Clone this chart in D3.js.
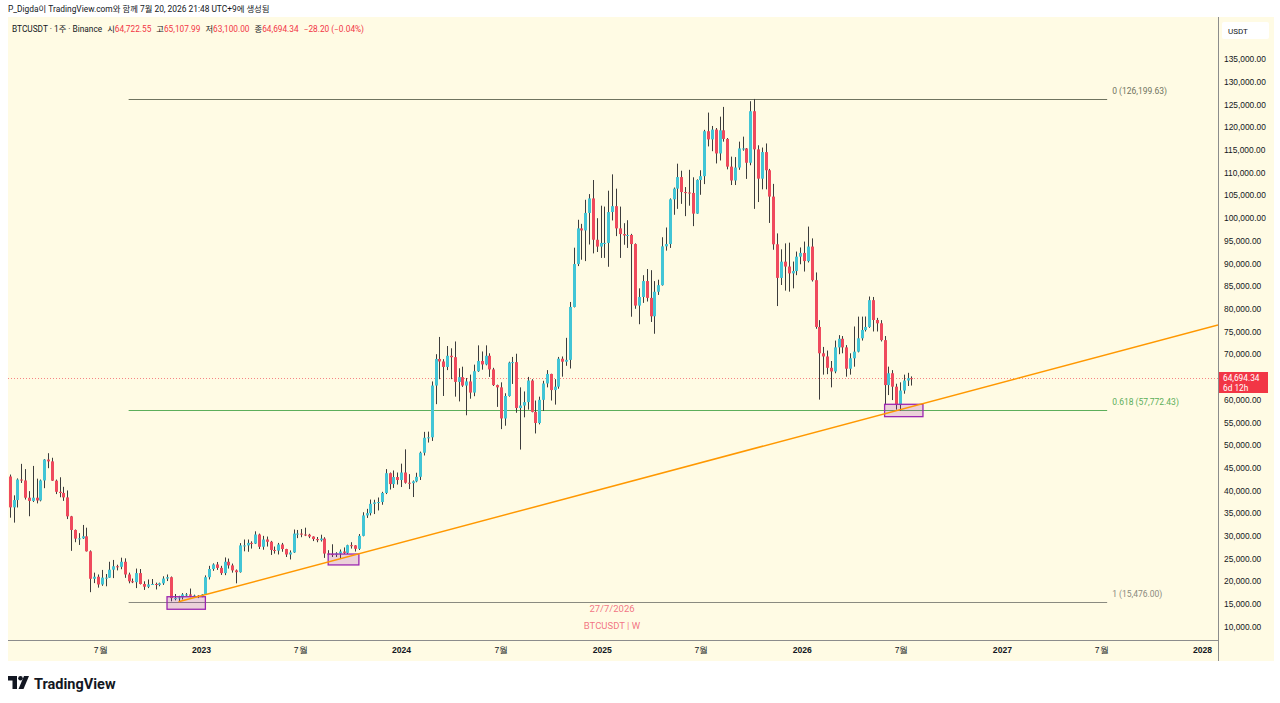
<!DOCTYPE html>
<meta charset="utf-8">
<style>
  body { margin: 0; background: #fff; }
  svg { display: block; font-family: Roboto, "Noto Sans CJK KR", sans-serif; }
</style>
<body>
<script src="https://d3js.org/d3.v7.min.js"></script>
<script>
// weekly BTCUSDT candles, one value per week starting at firstWeek (open = previous close)
var firstWeek = "2022-01-17";
var firstOpen = 43070;
var closes = [
  36276,37881,42400,42200,38400,37700,38400,37800,42200,46800,46400,42150,39700,39450,38470,34300,
  31300,29400,29450,29900,26600,20550,21000,19300,20800,20800,22550,23300,23180,24300,21500,20000,
  19800,21800,19400,18800,19300,19400,19200,19550,20600,20900,16300,16300,16450,17100,17100,16800,
  16850,16700,
  17100,20900,22700,23700,22950,21800,24300,23500,22400,22000,27900,27900,28450,28300,30300,27600,
  29200,28700,26900,26750,28100,27100,25900,26350,30500,30500,30300,30250,29850,29300,29050,29400,
  26100,26000,25850,26100,26550,26250,27950,27900,27150,30000,34500,35000,37050,37350,37450,39450,
  43800,41400,42950,42300,
  43950,41700,41600,42000,43000,48300,51600,51700,63100,68950,68400,67200,69650,69350,63900,64950,
  63100,64000,61550,66250,68500,67750,69650,66650,63200,62700,55850,60800,68150,68250,58150,58700,
  59450,64200,57300,54850,59950,63550,65650,62100,62850,69000,68350,68750,80400,89850,97700,97250,
  101100,104300,95200,93700,94500,
  94500,101300,102600,97700,96450,96150,96250,94250,80700,82600,86100,82400,78350,83750,85200,93750,
  94250,104100,106450,109000,105700,105600,105500,100950,108350,109200,119100,117300,119450,114200,119300,117400,
  111300,108250,111100,115300,115300,112150,123500,115100,108650,114500,110500,104700,94200,86800,90377,89300,
  87800,88300,91478,92300,
  90500,93700,86300,76000,70200,69500,67000,66200,71500,73400,71500,66800,69100,70560,73500,75330,
  76000,81900,77530,76800,73100,63200,65800,62850,58800,62000,64200,64722.55,64694.34
];
var highs = [
  43500,38920,42656,45855,44700,39850,45400,42600,42400,46900,48200,47200,42400,42900,40800,40000,
  34400,31400,30600,32400,31800,26800,21900,21500,22500,21600,24300,24700,23650,25200,25050,21900,
  20600,22800,22700,20000,20400,20500,19700,19700,21100,21500,21050,17200,16800,17400,17400,18400,
  17050,16950,
  17200,21300,23400,23950,24250,23400,25250,25000,23900,22600,28400,29200,29200,28800,31000,30500,
  30000,29850,28900,27650,28450,28450,27150,26800,31400,31300,31500,31800,30450,29900,29750,30250,
  29700,26850,28150,26400,27000,27450,28050,28600,27950,30400,35200,35950,38000,37950,38450,39700,
  44700,43950,44400,43950,
  45900,49050,43600,42200,43900,48550,52900,52950,64000,70000,73800,68900,71800,71300,72800,66900,
  67250,64750,65500,67700,71950,70600,71950,70200,67000,63300,63800,61400,68350,69400,70100,62700,
  61800,65000,64500,59800,60650,64150,66500,65700,64500,69400,69500,73600,81500,93450,99600,98700,
  104000,105250,108350,99950,102700,
  102500,106000,109600,106450,102500,98850,99500,96500,94400,84500,87400,88750,88500,86100,86400,95750,
  97900,104300,106700,111950,110400,106800,110600,108950,108500,110500,119400,123200,120250,119800,122300,124450,
  117600,113500,113400,116800,117900,115400,125700,126199.63,116000,115500,116400,110800,107500,96600,93093,94400,
  94560,90400,92600,93500,
  94800,98100,95500,88000,77500,71600,70800,68500,73000,74200,74000,72000,70200,76100,78270,78270,
  78300,82700,82600,78000,77500,74000,67260,66500,63500,63800,65500,65900,65107.99
];
var lows = [
  34000,32917,36250,41650,38000,34322,37450,37150,37600,40500,44900,42100,39200,38500,37700,33700,
  26700,28600,28000,29300,26550,17600,19600,18600,19000,18900,20750,20700,22400,22650,20760,19550,
  19600,18500,19300,18100,18500,19200,18200,18900,19200,20050,15588,15800,15476,16000,16750,16500,
  16400,16300,
  16500,17100,20400,22300,22500,21400,21350,22800,21900,19550,21900,26600,26500,27200,28200,27100,
  26950,27650,25800,26100,25900,26500,25350,24800,26250,29500,29700,29950,29500,28850,28600,28750,
  25150,25750,25350,25350,24900,26000,26000,27200,26550,26900,29900,33950,34500,34800,35600,36850,
  39200,40200,40550,41300,
  40750,41500,40300,38550,41800,42300,47700,50550,50900,59000,64500,60800,66500,64500,60650,59600,
  62800,56550,60200,60750,66100,66600,67550,65000,63000,58400,53500,54250,60650,63450,57100,49000,
  56100,57800,57200,52550,54550,57500,62700,59800,58900,62400,65050,67450,66850,80300,89400,90800,
  90500,94150,92200,92500,91200,
  91200,89250,99450,96000,91200,94100,93400,78250,80000,76600,81300,81600,77100,74500,83050,85100,
  92800,93400,100700,102000,103100,100400,102700,98200,100900,105100,107450,115750,114700,112000,112650,116800,
  110700,107250,107250,110600,114800,108600,111600,102000,103500,106300,106300,98900,93000,80600,85240,84000,
  83770,84500,87400,89800,
  88200,90200,86000,75600,60000,65500,65600,62700,65800,70000,70200,65050,65500,67250,70400,73000,
  75000,75800,75000,75000,72800,58800,61000,59900,57800,57500,61300,63000,63100
];

// axes (65,000 is hidden behind the last price label)
var priceTicks = [10000,15000,20000,25000,30000,35000,40000,45000,50000,55000,60000,
                  70000,75000,80000,85000,90000,95000,100000,105000,110000,115000,120000,125000,130000,135000];
var timeTickDates = ["2022-07-01","2023-01-01","2023-07-01","2024-01-01","2024-07-01","2025-01-01","2025-07-01","2026-01-01","2026-07-01","2027-01-01","2027-07-01","2028-01-01"];
var timeTickLabels = ["7월","2023","7월","2024","7월","2025","7월","2026","7월","2027","7월","2028"];

// fib retracement
var fibLevels = ["0", "0.618", "1"];
var fibPrices = [126199.63, 57772.43, 15476.00];
var fibColors = ["#6f735f", "#5cae5a", "#8a8a80"];
var fibDates = ["2022-08-22", "2027-07-12"];

// orange trend line anchors
var trendDates = ["2022-11-21", "2026-06-29"];
var trendPrices = [15476, 57785];

// purple boxes
var boxStart = ["2022-10-31", "2023-08-21", "2026-06-01"];
var boxEnd = ["2023-01-09", "2023-10-16", "2026-08-10"];
var boxTop = [16600, 26000, 58970];
var boxBottom = [13840, 23600, 56250];

// legend
var legendLabels = ["시", "고", "저", "종"];
var legendValues = ["64,722.55", "65,107.99", "63,100.00", "64,694.34"];
var legendChange = "−28.20 (−0.04%)";
var lastPrice = 64694.34;
var countdown = "6d 12h";

var W = 1280, H = 703,
    padL = 8, padT = 17, plotRight = 1218, plotBottom = 640, panelRight = 1274, panelBottom = 661;
var upColor = "#42c5d6", downColor = "#ef4a5d", wickColor = "#3c3c3c", textColor = "#131722";

var parse = d3.utcParse("%Y-%m-%d");
var x = d3.scaleUtc().domain([parse("2023-01-01"), parse("2028-01-01")]).range([201, 1202]);
var y = d3.scaleLinear().domain([10000, 130000]).range([626.7, 81.7]);

var svg = d3.select("body").append("svg").attr("width", W).attr("height", H);

svg.append("text").attr("x", 8).attr("y", 12).attr("font-size", 8.4).attr("fill", textColor)
  .text("P_Digda이 TradingView.com와 함께 7월 20, 2026 21:48 UTC+9에 생성됨");

svg.append("rect").attr("x", padL).attr("y", padT)
  .attr("width", panelRight - padL).attr("height", panelBottom - padT).attr("fill", "#fffbe4");

svg.append("clipPath").attr("id", "plotclip").append("rect")
  .attr("x", padL).attr("y", padT).attr("width", plotRight - padL).attr("height", plotBottom - padT);
var plot = svg.append("g").attr("clip-path", "url(#plotclip)");

// fib lines
fibPrices.forEach(function(p, i) {
  var yy = Math.round(y(p)) + 0.5;
  plot.append("line").attr("x1", x(parse(fibDates[0]))).attr("x2", x(parse(fibDates[1])))
    .attr("y1", yy).attr("y2", yy).attr("stroke", fibColors[i]).attr("stroke-width", 1);
  plot.append("text").attr("x", x(parse(fibDates[1])) + 5).attr("y", yy - 5.5)
    .attr("font-size", 8.5).attr("fill", fibColors[i])
    .text(fibLevels[i] + " (" + d3.format(",.2f")(p) + ")");
});

// current price dotted line
var lastY = Math.round(y(lastPrice)) + 0.5;
plot.append("line").attr("x1", padL).attr("x2", plotRight).attr("y1", lastY).attr("y2", lastY)
  .attr("stroke", "#f23645").attr("stroke-opacity", 0.6).attr("stroke-dasharray", "1,2");

// candles
var candles = closes.map(function(c, i) {
  return {date: d3.utcDay.offset(parse(firstWeek), 7 * i),
          open: i === 0 ? firstOpen : closes[i - 1], high: highs[i], low: lows[i], close: c};
});
var cg = plot.selectAll("g.candle").data(candles).enter().append("g").attr("class", "candle");
cg.append("line")
  .attr("x1", function(d) { return Math.round(x(d.date)) + 0.5; })
  .attr("x2", function(d) { return Math.round(x(d.date)) + 0.5; })
  .attr("y1", function(d) { return y(d.high); })
  .attr("y2", function(d) { return y(d.low); })
  .attr("stroke", wickColor).attr("stroke-width", 1);
cg.append("rect")
  .attr("x", function(d) { return Math.round(x(d.date)) - 1; })
  .attr("width", 3)
  .attr("y", function(d) { return y(Math.max(d.open, d.close)); })
  .attr("height", function(d) { return Math.max(1, Math.abs(y(d.open) - y(d.close))); })
  .attr("fill", function(d) { return d.close >= d.open ? upColor : downColor; });

// boxes
boxStart.forEach(function(s, i) {
  plot.append("rect").attr("x", x(parse(s))).attr("y", y(boxTop[i]))
    .attr("width", x(parse(boxEnd[i])) - x(parse(s)))
    .attr("height", y(boxBottom[i]) - y(boxTop[i]))
    .attr("fill", "rgba(156,39,176,0.2)").attr("stroke", "#9c27b0").attr("stroke-width", 1.3);
});

// trend line, extended to the right edge
var tx0 = x(parse(trendDates[0])), ty0 = y(trendPrices[0]),
    tx1 = x(parse(trendDates[1])), ty1 = y(trendPrices[1]);
var slope = (ty1 - ty0) / (tx1 - tx0);
plot.append("line").attr("x1", tx0).attr("y1", ty0)
  .attr("x2", plotRight).attr("y2", ty0 + slope * (plotRight - tx0))
  .attr("stroke", "#ff9800").attr("stroke-width", 1.5);

// watermark-like labels
svg.append("text").attr("x", 612).attr("y", 612).attr("text-anchor", "middle")
  .attr("font-size", 9.5).attr("fill", "#ef5a70").attr("fill-opacity", 0.85).text("27/7/2026");
svg.append("text").attr("x", 612).attr("y", 629).attr("text-anchor", "middle")
  .attr("font-size", 9.5).attr("fill", "#ef5a70").attr("fill-opacity", 0.85).text("BTCUSDT | W");

// axis lines
svg.append("line").attr("x1", padL).attr("x2", plotRight + 0.5).attr("y1", plotBottom + 0.5).attr("y2", plotBottom + 0.5)
  .attr("stroke", "#8c8c8c");
svg.append("line").attr("x1", plotRight + 0.5).attr("x2", plotRight + 0.5).attr("y1", padT).attr("y2", panelBottom)
  .attr("stroke", "#8c8c8c");

// price axis
var yAxis = d3.axisRight(y).tickValues(priceTicks).tickSize(0).tickPadding(0)
  .tickFormat(d3.format(",.2f"));
var ya = svg.append("g").attr("transform", "translate(1224,0)").call(yAxis);
ya.select(".domain").remove();
ya.selectAll("text").attr("font-size", 8.4).attr("fill", textColor).attr("font-family", null);

// time axis
var xAxis = d3.axisBottom(x).tickValues(timeTickDates.map(parse)).tickSize(0).tickPadding(0)
  .tickFormat(function(d, i) { return timeTickLabels[i]; });
var xa = svg.append("g").attr("transform", "translate(0," + (plotBottom + 7) + ")").call(xAxis);
xa.select(".domain").remove();
xa.selectAll("text").attr("font-size", 8.6).attr("fill", textColor).attr("font-family", null)
  .attr("font-weight", function(d, i) { return timeTickLabels[i].indexOf("월") < 0 ? "bold" : null; });

// USDT box
svg.append("rect").attr("x", 1222).attr("y", 22).attr("width", 47).attr("height", 17).attr("rx", 2)
  .attr("fill", "#fff");
svg.append("text").attr("x", 1228).attr("y", 34).attr("font-size", 8).attr("fill", textColor).text("USDT");

// last price label
svg.append("rect").attr("x", 1219).attr("y", lastY - 6.5).attr("width", 49).attr("height", 21)
  .attr("fill", "#f23645");
svg.append("text").attr("x", 1223).attr("y", lastY + 2.5).attr("font-size", 8.3).attr("fill", "#fff")
  .text(d3.format(",.2f")(lastPrice));
svg.append("text").attr("x", 1223).attr("y", lastY + 12).attr("font-size", 8.3).attr("fill", "#fff")
  .text(countdown);

// legend row
var lg = svg.append("text").attr("x", 12).attr("y", 32).attr("font-size", 8.3).attr("fill", textColor);
lg.append("tspan").text("BTCUSDT · 1주 · Binance");
legendLabels.forEach(function(l, i) {
  lg.append("tspan").attr("dx", 5).text(l);
  lg.append("tspan").attr("fill", "#f23645").text(legendValues[i]);
});
lg.append("tspan").attr("dx", 5).attr("fill", "#f23645").text(legendChange);

// TradingView logo
var logo = svg.append("g").attr("transform", "translate(8,676)").attr("fill", textColor);
logo.append("path").attr("d", "M0,0 H9 V13 H4.5 V4.5 H0 Z");
logo.append("circle").attr("cx", 12.5).attr("cy", 2.3).attr("r", 2.3);
logo.append("path").attr("d", "M16,0 H21 L15.5,13 H10.5 Z");
svg.append("text").attr("x", 34).attr("y", 688.5).attr("font-size", 14.5).attr("font-weight", "bold")
  .attr("fill", textColor).text("TradingView");
</script>
</body>
